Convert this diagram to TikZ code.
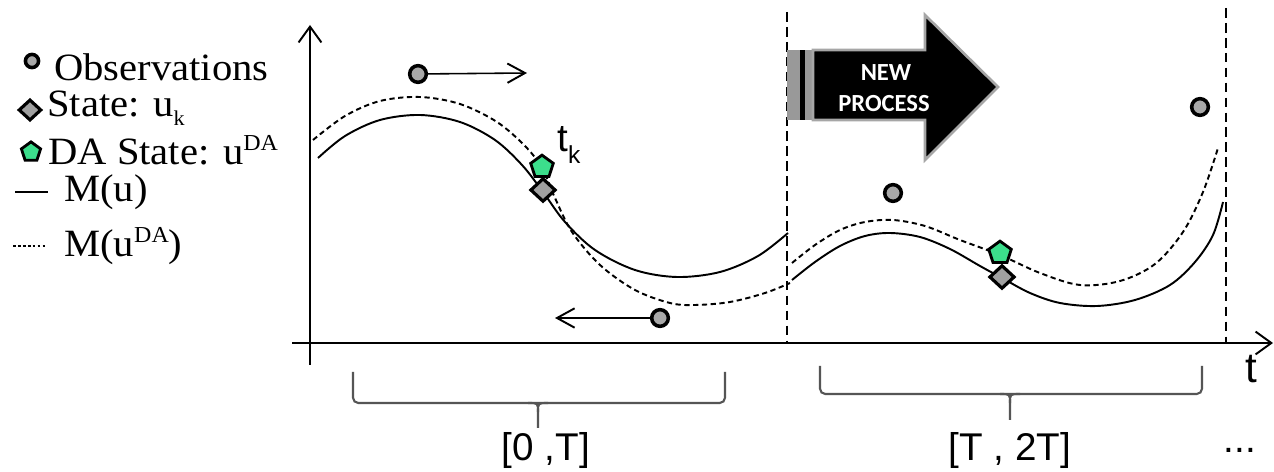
\documentclass[tikz,border=0pt]{standalone}
\usepackage{fontspec}
\setmainfont[FakeStretch=1.05]{Liberation Serif}
\newfontfamily\arialf{Liberation Sans}
\newfontfamily\procf{Carlito}
\usetikzlibrary{arrows.meta,shapes.geometric}
\definecolor{damint}{RGB}{60,222,140}
\definecolor{obsgray}{RGB}{168,168,168}
\definecolor{stategray}{RGB}{160,160,160}
\definecolor{bracegray}{RGB}{85,85,85}
\newcommand\lsub[1]{\raisebox{-0.5ex}{\fontsize{12}{12}\selectfont #1}}
\newcommand\lsup[1]{\raisebox{0.8ex}{\fontsize{13}{13}\selectfont #1}}
\tikzset{
  obs/.style={circle,draw=black,fill=obsgray,line width=2pt,minimum size=9.5pt,inner sep=0pt},
  statemk/.style={diamond,draw=black,fill=stategray,line width=1.8pt,minimum width=14.5pt,minimum height=13.5pt,inner sep=0pt},
  damk/.style={regular polygon,regular polygon sides=5,draw=black,fill=damint,line width=1.6pt,minimum size=13.5pt,inner sep=0pt},
  legtext/.style={anchor=west,inner sep=0pt,font=\fontsize{22}{24}\selectfont},
  curve/.style={line width=1.1pt},
  dcurve/.style={line width=1.1pt,dash pattern=on 3pt off 2pt},
  vdash/.style={line width=1.2pt,dash pattern=on 5.5pt off 3pt},
  axis/.style={line width=1.1pt,-{Straight Barb[length=9pt,width=13pt,line width=1.1pt]}},
  obsarrow/.style={line width=0.9pt,-{Straight Barb[length=10pt,width=11pt,line width=1.1pt]}},
  bracepath/.style={draw=bracegray,line width=1.2pt,rounded corners=3pt},
  sanslabel/.style={font=\arialf\fontsize{22}{24}\selectfont,inner sep=0pt}
}
\begin{document}
\begin{tikzpicture}[x=0.02cm,y=-0.02cm]
\useasboundingbox (0,0) rectangle (1274,472);
\fill[white] (0,0) rectangle (1274,472);

% axes
\coordinate (yb) at (310,365);
\coordinate (yt) at (310,25);
\coordinate (xl) at (292,343);
\coordinate (xr) at (1273,343);
\draw[axis] (yb) -- (yt);
\draw[axis] (xl) -- (xr);
\node[sanslabel,font=\arialf\fontsize{24}{26}\selectfont] (tlab) at (1251,369) {t};

% dashed verticals
\coordinate (v1t) at (787,12);
\coordinate (v1b) at (787,343);
\coordinate (v2t) at (1226,8);
\coordinate (v2b) at (1226,343);
\draw[vdash] (v1t) -- (v1b);
\draw[vdash] (v2t) -- (v2b);

% curves, first window
\draw[curve] plot[smooth,tension=0.55] coordinates {(318,158) (345,136) (380,120) (420,115) (460,122) (495,140) (522,165) (543,192) (565,222) (595,250) (635,270) (677,277) (720,272) (758,256) (788,233)};
\draw[dcurve] plot[smooth,tension=0.55] coordinates {(313,140) (345,116) (380,101) (420,97) (460,104) (497,122) (525,146) (542,168) (555,198) (572,232) (600,265) (635,290) (670,303) (695,305) (730,302) (765,293) (790,283)};
% curves, second window
\draw[curve] plot[smooth,tension=0.55] coordinates {(792,280) (815,262) (840,246) (865,236) (890,233) (920,237) (950,249) (980,266) (1002,278) (1030,293) (1060,303) (1097,306) (1135,300) (1170,285) (1195,262) (1213,235) (1223,202)};
\draw[dcurve] plot[smooth,tension=0.55] coordinates {(792,263) (815,245) (840,230) (865,222) (893,220) (925,226) (960,240) (1000,255) (1040,273) (1080,285) (1120,281) (1155,264) (1183,232) (1203,192) (1218,148)};

% markers on curves
\node[damk] (da1) at (542,167) {};
\node[statemk] (st1) at (543,190) {};
\node[damk] (da2) at (1000,253) {};
\node[statemk] (st2) at (1002,277) {};
\node[anchor=west,inner sep=0pt,font=\arialf\fontsize{22}{22}\selectfont] (tk) at (557,145) {t\raisebox{-0.55ex}{\fontsize{14}{14}\selectfont k}};

% observations
\node[obs] (o1) at (418,74) {};
\coordinate (o1e) at (527,73);
\draw[obsarrow] (o1) -- (o1e);
\node[obs] (o2) at (660,318) {};
\coordinate (o2e) at (555,318);
\draw[obsarrow] (o2) -- (o2e);
\node[obs] (o3) at (893,193) {};
\node[obs] (o4) at (1200,107) {};

% NEW PROCESS arrow
\fill[gray!80] (787,50) rectangle (800,120);
\fill[black] (800,50) rectangle (805,120);
\fill[gray!80] (805,50) rectangle (813,120);
\draw[draw=gray!70,line width=1.5pt,fill=black,line join=miter] (813,50) -- (925,50) -- (925,15) -- (998,87) -- (925,160) -- (925,120) -- (813,120) -- cycle;
\node[text=white,font=\procf\bfseries\fontsize{14}{14}\selectfont,inner sep=0pt] (np1) at (886,73) {NEW};
\node[text=white,font=\procf\bfseries\fontsize{14}{14}\selectfont,inner sep=0pt] (np2) at (884,104) {PROCESS};

% braces
\draw[bracepath] (353,372) -- (353,403) -- (725,403) -- (725,372);
\draw[draw=bracegray,line width=1.2pt] (528,403) .. controls (538,403) .. (538,412) -- (538,428);
\draw[draw=bracegray,line width=1.2pt] (548,403) .. controls (538,403) .. (538,412);
\draw[bracepath] (820,366) -- (820,394) -- (1202,394) -- (1202,366);
\draw[draw=bracegray,line width=1.2pt] (1000,394) .. controls (1010,394) .. (1010,403) -- (1010,420);
\draw[draw=bracegray,line width=1.2pt] (1020,394) .. controls (1010,394) .. (1010,403);
\node[sanslabel] (l1) at (546,451) {[0 ,T]};
\node[sanslabel] (l2) at (1010,451) {[T , 2T]};
\node[sanslabel] (l3) at (1240,450) {...};

% legend
\node[obs,minimum size=7.5pt] (lg1) at (32,61) {};
\node[legtext] (lt1) at (54,67) {Observations};
\node[statemk,minimum width=13pt,minimum height=12pt] (lg2) at (30,110) {};
\node[legtext] (lt2) at (47,108) {State: u\lsub{k}};
\node[damk,minimum size=11.5pt] (lg3) at (31,152) {};
\node[legtext] (lt3) at (48,150) {DA State: u\lsup{DA}};
\coordinate (lm1a) at (15,192);
\coordinate (lm1b) at (48,192);
\draw[curve] (lm1a) -- (lm1b);
\node[legtext] (lt4) at (64,192) {M(u)};
\coordinate (lm2a) at (13,246);
\coordinate (lm2b) at (45,246);
\draw[line width=1pt,dash pattern=on 1.6pt off 1.2pt] (lm2a) -- (lm2b);
\node[legtext] (lt5) at (64,246) {M(u\lsup{DA})};
\end{tikzpicture}
\end{document}
